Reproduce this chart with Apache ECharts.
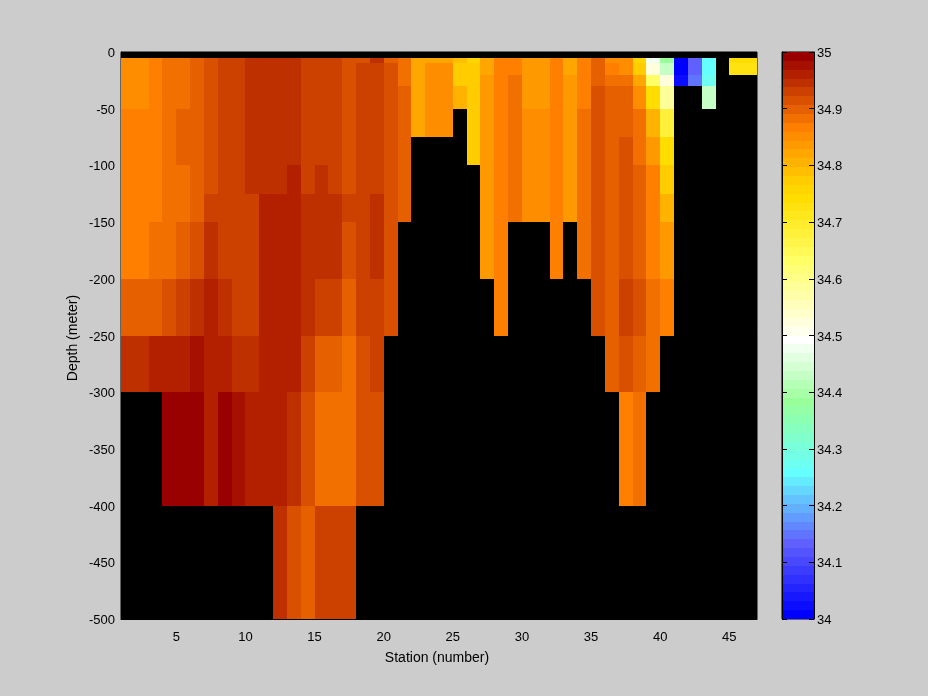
<!DOCTYPE html>
<html>
<head>
<meta charset="utf-8">
<style>html,body{margin:0;padding:0;background:#cccccc}#c{width:928px;height:696px}</style>
<script src="https://cdn.jsdelivr.net/npm/echarts@6/dist/echarts.min.js"></script>
</head>
<body>
<div id="c"></div>
<script>
const N = null;
const stationEdges = [1,2,3,4,5,6,7,8,9,10,11,12,13,14,15,16,17,18,19,20,21,22,23,24,25,26,27,28,29,30,31,32,33,34,35,36,37,38,39,40,41,42,43,44,45,46,47];
const depthEdges = [-5,-10,-20,-30,-50,-75,-100,-125,-150,-200,-250,-300,-400,-500];
const stationTicks = [5,10,15,20,25,30,35,40,45];
const salMin = 34, salMax = 35, colourLevels = 64;

const rowA = [34.85,34.85,34.87,34.88,34.88,34.90,34.91,34.93,34.93,34.95,34.95,34.95,34.95,34.93,34.93,34.93,34.91,34.91,34.95,34.90,34.88,34.82,34.82,34.82,34.79,34.76,34.82,34.87,34.87,34.83,34.83,34.87,34.82,34.87,34.90,34.85,34.85,34.76,34.48,34.38,34.01,34.13,34.26,N,34.74,34.74];
const rowB = [34.85,34.85,34.87,34.88,34.88,34.90,34.91,34.93,34.93,34.95,34.95,34.95,34.95,34.93,34.93,34.93,34.91,34.93,34.93,34.91,34.88,34.82,34.85,34.85,34.78,34.78,34.82,34.87,34.87,34.83,34.83,34.87,34.82,34.87,34.90,34.87,34.85,34.78,34.52,34.43,34.01,34.13,34.26,N,34.73,34.73];
const rowC = [34.85,34.85,34.87,34.88,34.88,34.90,34.91,34.93,34.93,34.95,34.95,34.95,34.95,34.93,34.93,34.93,34.91,34.93,34.93,34.91,34.88,34.82,34.85,34.85,34.78,34.78,34.83,34.87,34.88,34.83,34.83,34.87,34.83,34.87,34.90,34.88,34.88,34.82,34.63,34.52,34.02,34.15,34.27,N,N,N];
const rowD = [34.85,34.85,34.87,34.88,34.88,34.90,34.91,34.93,34.93,34.95,34.95,34.95,34.95,34.93,34.93,34.93,34.91,34.93,34.93,34.91,34.90,34.82,34.85,34.85,34.80,34.78,34.83,34.87,34.88,34.83,34.83,34.87,34.83,34.87,34.91,34.90,34.90,34.85,34.74,34.59,N,N,34.43,N,N,N];
const rowE = [34.87,34.87,34.87,34.88,34.90,34.90,34.91,34.93,34.93,34.95,34.95,34.95,34.95,34.93,34.93,34.93,34.91,34.93,34.93,34.91,34.90,34.82,34.85,34.85,N,34.78,34.83,34.87,34.88,34.85,34.85,34.87,34.83,34.88,34.91,34.90,34.90,34.88,34.80,34.68,N,N,N,N,N,N];
const rowF = [34.87,34.87,34.87,34.88,34.90,34.90,34.91,34.93,34.93,34.95,34.95,34.95,34.95,34.93,34.93,34.93,34.91,34.93,34.93,34.91,34.90,N,N,N,N,34.78,34.83,34.87,34.88,34.85,34.85,34.87,34.83,34.88,34.91,34.90,34.91,34.88,34.83,34.74,N,N,N,N,N,N];
const rowG = [34.87,34.87,34.87,34.88,34.88,34.90,34.91,34.93,34.93,34.95,34.95,34.95,34.96,34.93,34.95,34.93,34.91,34.93,34.93,34.91,34.90,N,N,N,N,N,34.83,34.87,34.88,34.85,34.85,34.87,34.83,34.88,34.91,34.90,34.91,34.90,34.87,34.78,N,N,N,N,N,N];
const rowH = [34.87,34.87,34.87,34.88,34.88,34.90,34.93,34.93,34.93,34.93,34.96,34.96,34.96,34.95,34.95,34.95,34.93,34.93,34.95,34.91,34.90,N,N,N,N,N,34.83,34.87,34.88,34.85,34.85,34.87,34.83,34.88,34.91,34.90,34.91,34.90,34.87,34.80,N,N,N,N,N,N];
const rowI = [34.87,34.87,34.88,34.88,34.90,34.91,34.95,34.93,34.93,34.93,34.96,34.96,34.96,34.95,34.95,34.95,34.91,34.93,34.95,34.91,N,N,N,N,N,N,34.83,34.87,N,N,N,34.87,N,34.88,34.91,34.90,34.91,34.90,34.87,34.83,N,N,N,N,N,N];
const rowJ = [34.90,34.90,34.90,34.91,34.93,34.95,34.96,34.95,34.93,34.93,34.96,34.96,34.96,34.95,34.93,34.93,34.90,34.93,34.93,34.91,N,N,N,N,N,N,N,34.87,N,N,N,N,N,N,34.91,34.90,34.93,34.91,34.88,34.87,N,N,N,N,N,N];
const rowK = [34.95,34.95,34.96,34.96,34.96,34.98,34.96,34.96,34.95,34.95,34.96,34.96,34.96,34.93,34.90,34.90,34.88,34.91,34.93,N,N,N,N,N,N,N,N,N,N,N,N,N,N,N,N,34.90,34.91,34.90,34.88,N,N,N,N,N,N,N];
const rowL = [N,N,N,34.99,34.99,34.99,34.96,34.99,34.98,34.96,34.96,34.96,34.95,34.91,34.88,34.88,34.88,34.91,34.91,N,N,N,N,N,N,N,N,N,N,N,N,N,N,N,N,N,34.87,34.88,N,N,N,N,N,N,N,N];
const rowM = [N,N,N,N,N,N,N,N,N,N,N,34.95,34.91,34.90,34.93,34.93,34.93,N,N,N,N,N,N,N,N,N,N,N,N,N,N,N,N,N,N,N,N,N,N,N,N,N,N,N,N,N];
const salinityRows = [rowA,rowB,rowC,rowD,rowE,rowF,rowG,rowH,rowI,rowJ,rowK,rowL,rowM];

const colourStops = [[0,'#0000ff'],[8,'#6060ff'],[16,'#66ffff'],[24,'#99ff99'],[31,'#ffffff'],[40,'#ffff66'],[47,'#ffdd00'],[49,'#ffcc00'],[55,'#ff8000'],[59,'#cc4000'],[63,'#990000']];

function rgb(h){return [1,3,5].map(i=>parseInt(h.substr(i,2),16));}
const palette = [];
for (let i=0;i<colourLevels;i++){
  let k=0; while(k<colourStops.length-2 && i>colourStops[k+1][0]) k++;
  const [a,ca]=colourStops[k],[b,cb]=colourStops[k+1],t=(i-a)/(b-a);
  const A=rgb(ca),B=rgb(cb);
  palette.push('rgb('+A.map((v,j)=>Math.round(v+(B[j]-v)*t)).join(',')+')');
}
function colourOf(v){
  const i=Math.max(0,Math.min(colourLevels-1,Math.floor((v-salMin)/(salMax-salMin)*colourLevels)));
  return palette[i];
}

const cells=[];
salinityRows.forEach((row,r)=>row.forEach((v,c)=>{
  if(v!==null) cells.push([stationEdges[c],stationEdges[c+1],depthEdges[r],depthEdges[r+1],v]);
}));
const barCells=palette.map((_,i)=>[0,1,salMin+i/colourLevels,salMin+(i+1)/colourLevels,salMin+(i+.5)/colourLevels]);

function renderCell(params,api){
  const p0=api.coord([api.value(0),api.value(2)]);
  const p1=api.coord([api.value(1),api.value(3)]);
  const x0=Math.round(p0[0]),x1=Math.round(p1[0]),y0=Math.round(p0[1]),y1=Math.round(p1[1]);
  return {type:'rect',shape:{x:x0,y:y0,width:x1-x0,height:y1-y0},style:{fill:colourOf(api.value(4))}};
}

const font={fontFamily:'"Liberation Sans",Arial,sans-serif',fontSize:13,color:'#000'};
const nameFont={fontFamily:'"Liberation Sans",Arial,sans-serif',fontSize:14,color:'#000'};
const nudge={verticalAlign:'top',lineHeight:3};
const line={show:true,onZero:false,lineStyle:{color:'#000',width:1}};
const chart=echarts.init(document.getElementById('c'),null,{renderer:'canvas'});
chart.setOption({
  animation:false,
  backgroundColor:'#cccccc',
  grid:[
    {left:121,top:52,width:636,height:567,show:true,backgroundColor:'#000',borderColor:'#000',borderWidth:1},
    {left:782,top:52,width:32,height:567,show:true,backgroundColor:'#000',borderColor:'#000',borderWidth:1}
  ],
  xAxis:[
    {type:'value',gridIndex:0,min:1,max:47,splitLine:{show:false},axisLine:line,
     axisTick:{show:true,inside:true,length:5,customValues:stationTicks,lineStyle:{color:'#000'}},
     axisLabel:Object.assign({show:true,margin:12,customValues:stationTicks},font),
     name:'Station (number)',nameLocation:'middle',nameGap:32,nameTextStyle:Object.assign({padding:[0,4,0,0]},nameFont)},
    {type:'value',gridIndex:1,min:0,max:1,show:false,splitLine:{show:false}}
  ],
  yAxis:[
    {type:'value',gridIndex:0,min:-500,max:0,interval:50,splitLine:{show:false},axisLine:line,
     axisTick:{show:true,inside:true,length:5,lineStyle:{color:'#000'}},
     axisLabel:Object.assign({show:true,margin:6},font,nudge),
     name:'Depth (meter)',nameLocation:'middle',nameGap:41,nameMoveOverlap:false,nameTextStyle:Object.assign({padding:[0,5,0,0]},nameFont)},
    {type:'value',gridIndex:1,position:'right',min:salMin,max:salMax,interval:0.1,z:5,splitLine:{show:false},axisLine:line,
     axisTick:{show:true,inside:true,length:5,lineStyle:{color:'#000'}},
     axisLabel:Object.assign({show:true,margin:3,showMinLabel:true,showMaxLabel:true},font,nudge)},
    {type:'value',gridIndex:1,position:'left',min:salMin,max:salMax,interval:0.1,z:5,splitLine:{show:false},axisLine:line,
     axisTick:{show:true,inside:true,length:5,lineStyle:{color:'#000'}},
     axisLabel:{show:false}}
  ],
  series:[
    {type:'custom',xAxisIndex:0,yAxisIndex:0,data:cells,renderItem:renderCell,encode:{x:[0,1],y:[2,3]},clip:true,silent:true},
    {type:'custom',xAxisIndex:1,yAxisIndex:1,data:barCells,renderItem:renderCell,encode:{x:[0,1],y:[2,3]},silent:true}
  ]
});
</script>
</body>
</html>
